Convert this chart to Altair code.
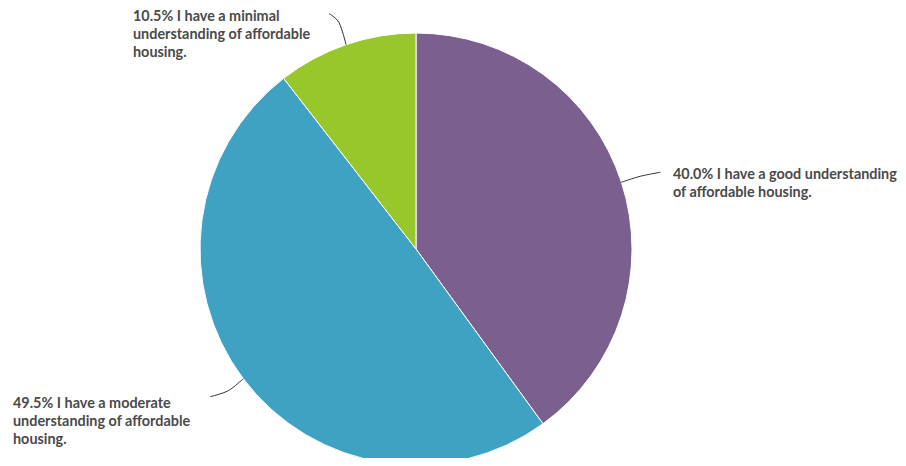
import math
import altair as alt
import pandas as pd

# ---- data ----
categories = [
    "I have a good understanding of affordable housing.",
    "I have a moderate understanding of affordable housing.",
    "I have a minimal understanding of affordable housing.",
]
values = [40.0, 49.5, 10.5]
label_text = [
    "40.0% I have a good understanding\nof affordable housing.",
    "49.5% I have a moderate\nunderstanding of affordable\nhousing.",
    "10.5% I have a minimal\nunderstanding of affordable\nhousing.",
]
colors = ["#7b5f8f", "#40a2c3", "#97c72a"]

# ---- layout ----
W, H = 890, 450
CX, CY, R = 408, 241, 216
label_x = [665, 5, 125]
label_y = [170.5, 399.5, 13]
elbow_off = [(19, -6), (-15, 12), (-7, -22)]
end_off = [(39, -10), (-33, 18), (-17, -31)]

pie_df = pd.DataFrame({"category": categories, "value": values, "idx": range(len(values))})

total = sum(values)
rows = []
cum = 0.0
for i, v in enumerate(values):
    mid = (cum + v / 2) / total * 2 * math.pi
    cum += v
    ex = CX + R * math.sin(mid)
    ey = CY - R * math.cos(mid)
    pts = [(ex, ey), (ex + elbow_off[i][0], ey + elbow_off[i][1]), (ex + end_off[i][0], ey + end_off[i][1])]
    for k, (px, py) in enumerate(pts):
        rows.append({"g": i, "k": k, "x": px, "y": py})
line_df = pd.DataFrame(rows)
text_df = pd.DataFrame({"t": label_text, "x": label_x, "y": label_y})

xs = alt.Scale(domain=[0, W], nice=False, zero=False)
ys = alt.Scale(domain=[0, H], nice=False, zero=False, reverse=True)

pie = alt.Chart(pie_df).mark_arc(outerRadius=R, stroke="white", strokeWidth=1).encode(
    theta=alt.Theta("value:Q", stack=True),
    color=alt.Color("category:N", scale=alt.Scale(domain=categories, range=colors), legend=None),
    order=alt.Order("idx:Q"),
    x=alt.value(CX),
    y=alt.value(CY),
)

leaders = alt.Chart(line_df).mark_line(color="#333333", strokeWidth=1, interpolate="cardinal").encode(
    x=alt.X("x:Q", scale=xs, axis=None),
    y=alt.Y("y:Q", scale=ys, axis=None),
    detail="g:N",
    order="k:Q",
)

labels = alt.Chart(text_df).mark_text(
    align="left", baseline="alphabetic", font="Lato", fontWeight="bold",
    fontSize=14.4, lineHeight=18, lineBreak="\n", color="#4a4a4a",
).encode(
    x=alt.X("x:Q", scale=xs, axis=None),
    y=alt.Y("y:Q", scale=ys, axis=None),
    text="t:N",
)

chart = alt.layer(pie, leaders, labels).properties(
    width=W, height=H, padding=0, autosize=alt.AutoSizeParams(type="none")
).configure_view(stroke=None).resolve_scale(color="independent")

chart.save("out.html", embed_options={"renderer": "svg", "actions": False})
